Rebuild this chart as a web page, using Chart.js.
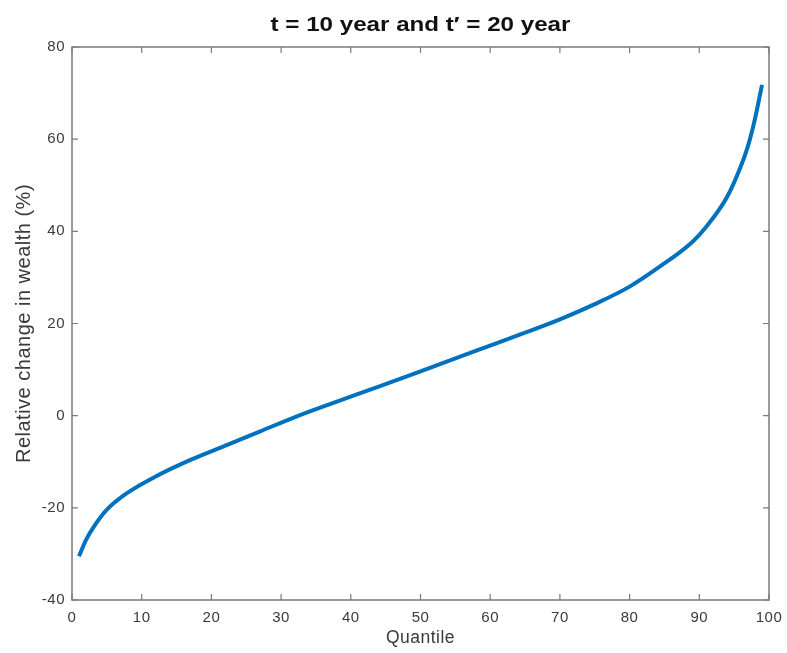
<!DOCTYPE html>
<html>
<head>
<meta charset="utf-8">
<script src="https://cdn.jsdelivr.net/npm/chart.js@4.4.1/dist/chart.umd.min.js"></script>
<style>
  html, body { margin: 0; padding: 0; background: #fff; }
  canvas { display: block; }
</style>
</head>
<body>
<canvas id="wealthChart" width="787" height="653"></canvas>
<script>
// quantile -> relative change in wealth (%)
const quantiles = [1, 2, 3, 5, 8, 12, 17, 22, 27, 32, 37, 44, 50, 58, 65, 70, 75, 80, 84, 89, 91, 94, 96, 97, 98, 99];
const wealthChange = [-30.5, -27.0, -24.4, -20.4, -16.7, -13.2, -9.6, -6.5, -3.4, -0.3, 2.5, 6.3, 9.6, 14.1, 18.0, 20.9, 24.2, 28.0, 32.0, 37.7, 41.0, 47.5, 54.3, 58.6, 64.5, 71.8];
const xTicks = [0, 10, 20, 30, 40, 50, 60, 70, 80, 90, 100];
const yTicks = [-40, -20, 0, 20, 40, 60, 80];
const chartTitle = "t = 10 year and t\u2032 = 20 year";

const axisColor = "#7a7a7a";
const textColor = "#3a3a3a";
const fontFamily = "'Liberation Sans', Arial, Helvetica, sans-serif";

// slightly looser text for the axis labels
const spacingPlugin = {
  id: "textSpacing",
  beforeDraw(chart) {
    chart.ctx.letterSpacing = "0.5px";
  },
};

// bold title centred over the plot area, a bit wide like Helvetica on the Mac
const titlePlugin = {
  id: "plotTitle",
  afterDraw(chart) {
    const { ctx, chartArea: a } = chart;
    ctx.save();
    ctx.letterSpacing = "0px";
    ctx.font = "bold 21px " + fontFamily;
    ctx.fillStyle = "#111";
    ctx.textAlign = "center";
    ctx.textBaseline = "middle";
    ctx.translate((a.left + a.right) / 2, 25);
    ctx.scale(1.15, 1);
    ctx.fillText(chartTitle, 0, 0);
    ctx.restore();
  },
};

// box around the plot with short inward ticks on all four sides
const boxPlugin = {
  id: "boxTicks",
  afterDatasetsDraw(chart) {
    const { ctx, chartArea: a, scales } = chart;
    const len = 6;
    ctx.save();
    ctx.strokeStyle = axisColor;
    ctx.lineWidth = 1.5;
    ctx.strokeRect(a.left, a.top, a.right - a.left, a.bottom - a.top);
    ctx.lineWidth = 1.2;
    ctx.beginPath();
    xTicks.forEach((v) => {
      const x = scales.x.getPixelForValue(v);
      ctx.moveTo(x, a.bottom);
      ctx.lineTo(x, a.bottom - len);
      ctx.moveTo(x, a.top);
      ctx.lineTo(x, a.top + len);
    });
    yTicks.forEach((v) => {
      const y = scales.y.getPixelForValue(v);
      ctx.moveTo(a.left, y);
      ctx.lineTo(a.left + len, y);
      ctx.moveTo(a.right, y);
      ctx.lineTo(a.right - len, y);
    });
    ctx.stroke();
    ctx.restore();
  },
};

new Chart(document.getElementById("wealthChart").getContext("2d"), {
  type: "line",
  data: {
    datasets: [
      {
        data: quantiles.map((q, i) => ({ x: q, y: wealthChange[i] })),
        borderColor: "#0072BD",
        borderWidth: 4,
        pointRadius: 0,
        cubicInterpolationMode: "monotone",
        fill: false,
      },
    ],
  },
  options: {
    responsive: false,
    animation: false,
    layout: { padding: { left: 0, right: 18, top: 47, bottom: 0 } },
    plugins: {
      legend: { display: false },
      tooltip: { enabled: false },
      title: { display: false },
    },
    scales: {
      x: {
        type: "linear",
        min: 0,
        max: 100,
        grid: { display: false, drawTicks: false },
        border: { display: false },
        ticks: {
          stepSize: 10,
          color: textColor,
          padding: 9,
          maxRotation: 0,
          font: { family: fontFamily, size: 15 },
        },
        title: {
          display: true,
          text: "Quantile",
          color: textColor,
          font: { family: fontFamily, size: 17.5 },
          padding: { top: 0 },
        },
        afterFit(scale) {
          scale.height = 53;
          scale.paddingLeft = 0;
          scale.paddingRight = 0;
        },
      },
      y: {
        min: -40,
        max: 80,
        grid: { display: false, drawTicks: false },
        border: { display: false },
        ticks: {
          stepSize: 20,
          color: textColor,
          padding: 7,
          font: { family: fontFamily, size: 15 },
        },
        title: {
          display: true,
          text: "Relative change in wealth (%)",
          color: textColor,
          font: { family: fontFamily, size: 20 },
          padding: { top: 12, bottom: 0 },
        },
        afterFit(scale) {
          scale.width = 72;
          scale.paddingTop = 0;
          scale.paddingBottom = 0;
        },
      },
    },
  },
  plugins: [spacingPlugin, titlePlugin, boxPlugin],
});
</script>
</body>
</html>
